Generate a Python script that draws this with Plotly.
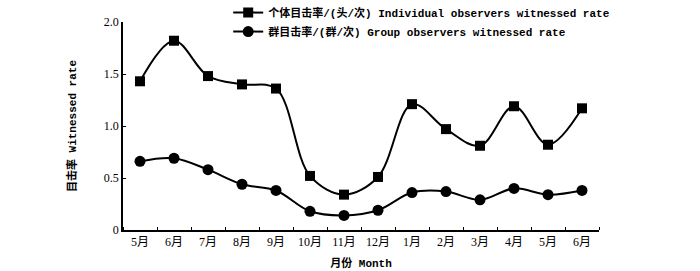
import plotly.graph_objects as go

months = ["5月", "6月", "7月", "8月", "9月", "10月", "11月", "12月", "1月", "2月", "3月", "4月", "5月", "6月"]
individual = [1.43, 1.82, 1.48, 1.40, 1.36, 0.52, 0.34, 0.51, 1.21, 0.97, 0.81, 1.19, 0.82, 1.17]
group = [0.66, 0.69, 0.58, 0.44, 0.38, 0.18, 0.14, 0.19, 0.36, 0.37, 0.29, 0.40, 0.34, 0.38]
name_ind = "个体目击率/(头/次) Individual observers witnessed rate"
name_grp = "群目击率/(群/次) Group observers witnessed rate"

xpos = list(range(len(months)))
FONT = "Liberation Mono, Noto Sans CJK SC, monospace"
TICKFONT = "Liberation Serif, Noto Sans CJK SC, serif"

fig = go.Figure()
fig.add_trace(go.Scatter(x=xpos, y=individual, name=name_ind, mode="lines+markers",
                         line=dict(color="black", width=2, shape="spline", smoothing=1),
                         marker=dict(symbol="square", size=10, color="black")))
fig.add_trace(go.Scatter(x=xpos, y=group, name=name_grp, mode="lines+markers",
                         line=dict(color="black", width=2, shape="spline", smoothing=1),
                         marker=dict(symbol="circle", size=11, color="black")))

fig.update_layout(
    width=700, height=271,
    margin=dict(l=123, r=101, t=22, b=41, autoexpand=False),
    paper_bgcolor="white", plot_bgcolor="white",
    showlegend=True,
    legend=dict(x=0.221, y=1.115, xanchor="left", yanchor="top",
                font=dict(family=FONT, size=11, color="black", weight="bold"),
                bgcolor="rgba(0,0,0,0)", tracegroupgap=0, itemwidth=30),
    xaxis=dict(range=[-0.5, 13.5], tickvals=xpos, ticktext=months,
               ticks="", showgrid=False, zeroline=False,
               showline=True, linecolor="black", linewidth=1.5,
               tickfont=dict(family=TICKFONT, size=12, color="black"),
               minor=dict(tick0=0.5, dtick=1, ticks="inside", ticklen=3, tickcolor="black", showgrid=False),
               title=dict(text="月份 Month", font=dict(family=FONT, size=11, color="black", weight="bold"), standoff=11)),
    yaxis=dict(range=[0, 2.0], tickvals=[0, 0.5, 1.0, 1.5, 2.0], ticktext=["0", "0.5", "1.0", "1.5", "2.0"],
               ticks="inside", ticklen=3, tickcolor="black",
               showgrid=False, zeroline=False, showline=True, linecolor="black", linewidth=1.5,
               tickfont=dict(family=TICKFONT, size=12, color="black"),
               title=dict(text="目击率 Witnessed rate", font=dict(family=FONT, size=11, color="black", weight="bold"), standoff=25)),
)

fig.write_html("out.html", config={"displayModeBar": False},
               post_script="document.body.style.margin='0';")
